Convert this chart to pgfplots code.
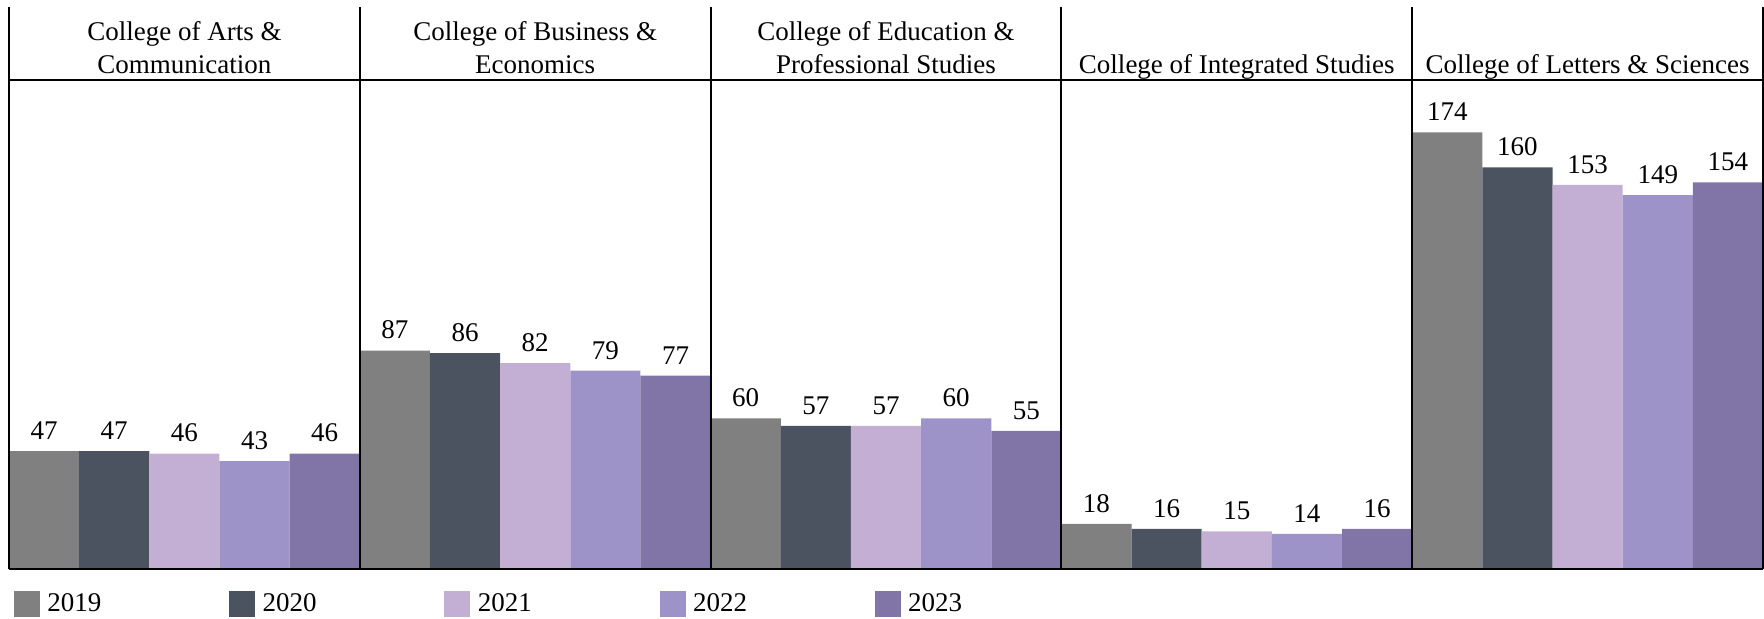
\documentclass[border=0pt]{standalone}
\usepackage{pgfplots}
\pgfplotsset{compat=1.18}
\usepackage{fontspec}
\setmainfont{Liberation Serif}
\definecolor{c19}{HTML}{808080}
\definecolor{c20}{HTML}{4B5260}
\definecolor{c21}{HTML}{C4AFD4}
\definecolor{c22}{HTML}{9D93C8}
\definecolor{c23}{HTML}{8175A8}
\begin{document}
\begin{tikzpicture}[font=\fontsize{13.5pt}{16pt}\selectfont]
\begin{axis}[
  scale only axis, width=877pt, height=281pt,
  xmin=0, xmax=25, ymin=0, ymax=223.9,
  hide axis, clip=false,
  /pgf/number format/assume math mode=true,
  ybar, bar width=1, bar shift=0pt,
  nodes near coords,
  every node near coord/.append style={anchor=south, inner sep=0pt, yshift=5.5pt, text=black, font=\rmfamily\fontsize{13.5pt}{16pt}\selectfont},
  legend columns=5,
  legend style={at={(rel axis cs:0.00285,-0.0623)}, anchor=west, draw=none, fill=none, inner sep=0pt, outer sep=0pt,
    font=\rmfamily\fontsize{13.5pt}{16pt}\selectfont,
    /tikz/every even column/.append style={column sep=61.9pt},
    /tikz/every odd column/.append style={column sep=1.7pt}},
  legend image code/.code={\fill[#1,draw=none] (0pt,-6.5pt) rectangle (13pt,6.5pt);},
]
\addplot[fill=c19, draw=none] coordinates {(0.5,47) (5.5,87) (10.5,60) (15.5,18) (20.5,174)};
\addplot[fill=c20, draw=none] coordinates {(1.5,47) (6.5,86) (11.5,57) (16.5,16) (21.5,160)};
\addplot[fill=c21, draw=none] coordinates {(2.5,46) (7.5,82) (12.5,57) (17.5,15) (22.5,153)};
\addplot[fill=c22, draw=none] coordinates {(3.5,43) (8.5,79) (13.5,60) (18.5,14) (23.5,149)};
\addplot[fill=c23, draw=none] coordinates {(4.5,46) (9.5,77) (14.5,55) (19.5,16) (24.5,154)};
\legend{2019,2020,2021,2022,2023}
% frame
\draw[black, line width=0.75pt] (axis cs:0,194.8) -- (axis cs:25,194.8);
\draw[black, line width=1pt] (axis cs:0,0) -- (axis cs:25,0);
\draw[black, line width=1pt] (axis cs:0,0) -- (axis cs:0,223.9);
\draw[black, line width=1pt] (axis cs:5,0) -- (axis cs:5,223.9);
\draw[black, line width=1pt] (axis cs:10,0) -- (axis cs:10,223.9);
\draw[black, line width=1pt] (axis cs:15,0) -- (axis cs:15,223.9);
\draw[black, line width=1pt] (axis cs:20,0) -- (axis cs:20,223.9);
\draw[black, line width=1pt] (axis cs:25,0) -- (axis cs:25,223.9);
% titles
\node[anchor=base] at (axis cs:2.5,210.4) {College of Arts \&};
\node[anchor=base] at (axis cs:2.5,197.6) {Communication};
\node[anchor=base] at (axis cs:7.5,210.4) {College of Business \&};
\node[anchor=base] at (axis cs:7.5,197.6) {Economics};
\node[anchor=base] at (axis cs:12.5,210.4) {College of Education \&};
\node[anchor=base] at (axis cs:12.5,197.6) {Professional Studies};
\node[anchor=base] at (axis cs:17.5,197.6) {College of Integrated Studies};
\node[anchor=base] at (axis cs:22.5,197.6) {College of Letters \& Sciences};
\end{axis}
\pgfresetboundingbox
\path[use as bounding box] (-4.5pt,-24.5pt) rectangle (877.5pt,284.5pt);
\end{tikzpicture}
\end{document}
